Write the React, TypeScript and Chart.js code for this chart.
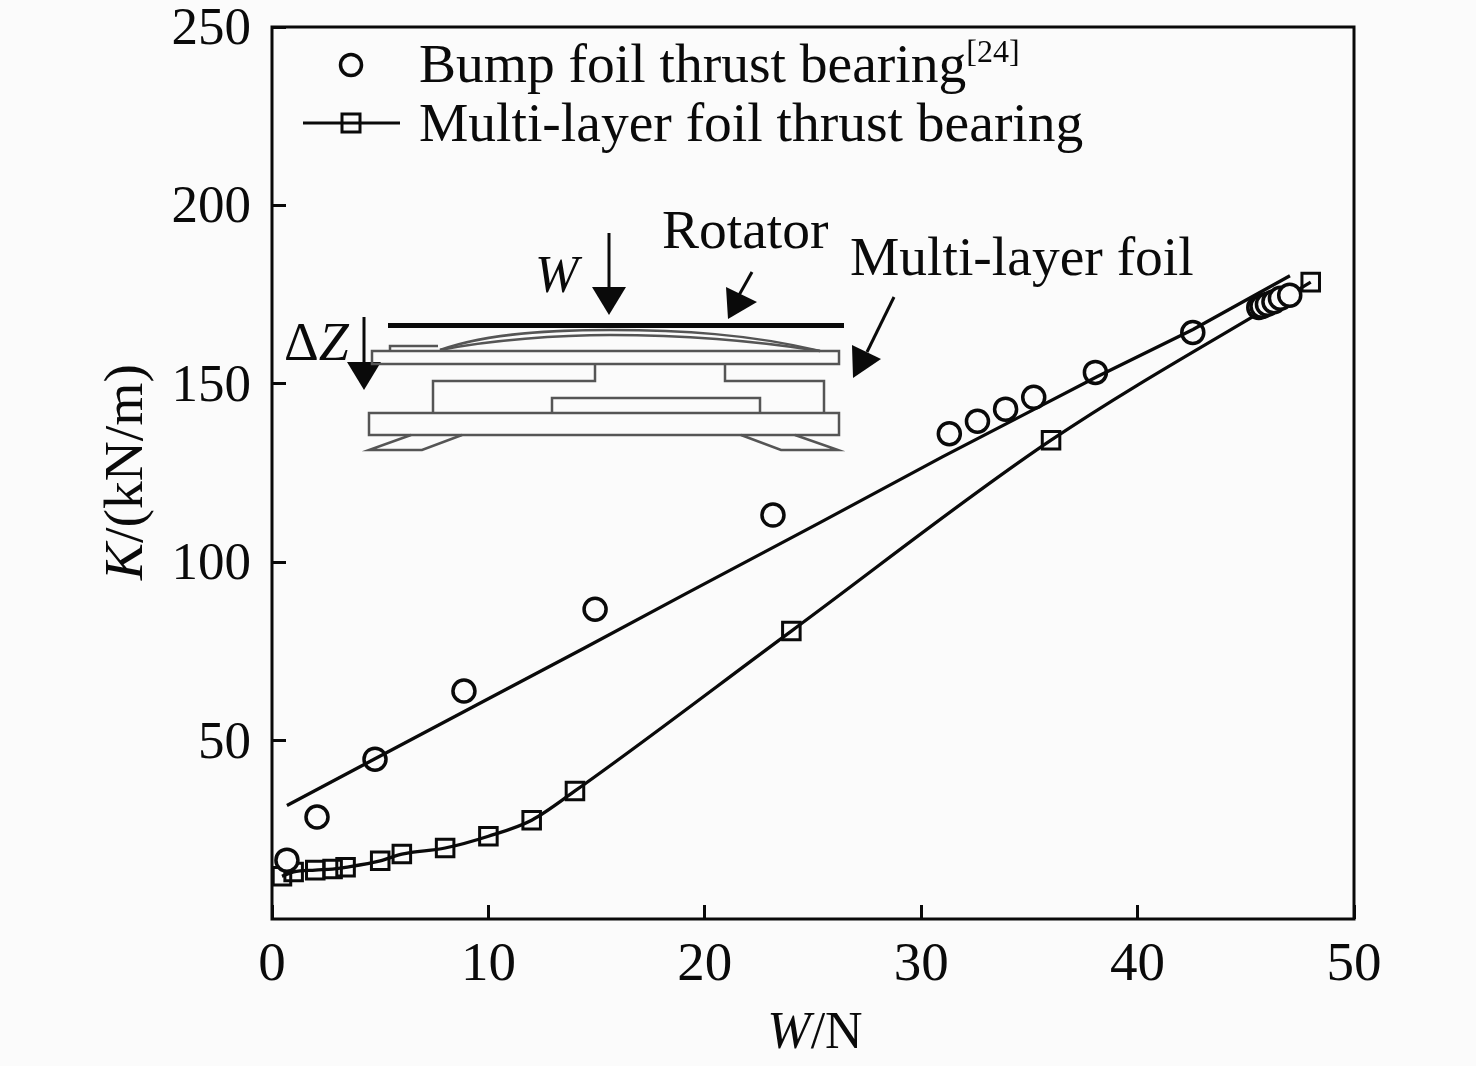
import React, { useEffect, useRef } from "react";
import { Chart, registerables } from "chart.js";

Chart.register(...registerables);

const bumpW = [0.69, 2.08, 4.76, 8.87, 14.93, 23.15, 31.3, 32.6, 33.9, 35.2, 38.05, 42.55, 45.6, 45.75, 46.0, 46.3, 46.6, 47.03];
const bumpK = [16.5, 28.6, 44.8, 63.9, 86.8, 113.2, 136, 139.5, 142.9, 146.2, 153.2, 164.4, 171.4, 171.7, 172.3, 173, 174, 174.8];
const fitW = [0.69, 4.76, 9.43, 14.46, 19.13, 25.32, 31.0, 35.17, 38.12, 42.56, 47.04];
const fitK = [31.8, 44.9, 59.9, 76, 91.2, 111.1, 129.6, 142.7, 152, 165.2, 180.3];
const multiW = [0.46, 1, 2, 2.8, 3.4, 5, 6, 8, 10, 12, 14, 24, 36, 48];
const multiK = [12, 13.2, 13.7, 14, 14.5, 16.3, 18.2, 19.9, 23.2, 27.7, 35.9, 80.7, 134.2, 178.5];
const xTicks = [0, 10, 20, 30, 40, 50];
const yTicks = [50, 100, 150, 200, 250];
const legendLabels = ["Bump foil thrust bearing", "Multi-layer foil thrust bearing"];

const SERIF = '"Liberation Serif"';
const INK = "#0a0a0a";
const PAPER = "#fbfbfb";
const FONT_SIZE = 55.5;

type Run = { t: string; italic?: boolean; size?: number; dy?: number };

function runs(ctx: CanvasRenderingContext2D, items: Run[], x: number, y: number, align: "left" | "center" = "left") {
  const fontOf = (r: Run) => `${r.italic ? "italic " : ""}${r.size ?? FONT_SIZE}px ${SERIF}`;
  let total = 0;
  for (const r of items) {
    ctx.font = fontOf(r);
    total += ctx.measureText(r.t).width;
  }
  let cx = align === "center" ? x - total / 2 : x;
  ctx.textAlign = "left";
  ctx.textBaseline = "alphabetic";
  ctx.fillStyle = INK;
  for (const r of items) {
    ctx.font = fontOf(r);
    ctx.fillText(r.t, cx, y + (r.dy ?? 0));
    cx += ctx.measureText(r.t).width;
  }
}

function path(ctx: CanvasRenderingContext2D, pts: number[][], close = false) {
  ctx.beginPath();
  pts.forEach(([a, b], i) => (i ? ctx.lineTo(a, b) : ctx.moveTo(a, b)));
  if (close) ctx.closePath();
}

function arrow(ctx: CanvasRenderingContext2D, line: number[][], head: number[][]) {
  ctx.strokeStyle = INK;
  ctx.fillStyle = INK;
  ctx.lineWidth = 3;
  path(ctx, line);
  ctx.stroke();
  path(ctx, head, true);
  ctx.fill();
}

const decor = {
  id: "decor",
  beforeDraw(chart: any) {
    const { ctx, width, height } = chart;
    ctx.save();
    ctx.fillStyle = PAPER;
    ctx.fillRect(0, 0, width, height);
    ctx.restore();
    const yScale = chart.scales.y;
    yScale._labelItems = null;
    yScale.getLabelItems(chart.chartArea).forEach((it: any) => {
      it.options.translation = [it.options.translation[0], it.options.translation[1] + 3];
    });
  },
  afterDatasetsDraw(chart: any) {
    const { ctx, chartArea: a } = chart;
    ctx.save();
    // frame
    ctx.strokeStyle = INK;
    ctx.lineWidth = 3;
    ctx.strokeRect(a.left, a.top, a.right - a.left, a.bottom - a.top);

    // axis titles
    runs(ctx, [{ t: "W", italic: true, size: 52 }, { t: "/N", size: 52 }], 815, 1048, "center");
    ctx.save();
    ctx.translate(142, 472);
    ctx.rotate(-Math.PI / 2);
    runs(ctx, [{ t: "K", italic: true }, { t: "/(kN/m)" }], 0, 0, "center");
    ctx.restore();

    // legend
    ctx.strokeStyle = INK;
    ctx.lineWidth = 3.5;
    ctx.beginPath();
    ctx.arc(351, 65, 10.5, 0, Math.PI * 2);
    ctx.stroke();
    ctx.lineWidth = 3;
    path(ctx, [[303, 123], [400, 123]]);
    ctx.stroke();
    ctx.strokeRect(342, 114, 18, 18);
    runs(ctx, [{ t: legendLabels[0] }, { t: "[24]", size: 32, dy: -20 }], 419, 82);
    runs(ctx, [{ t: legendLabels[1] }], 419, 141);

    // inset labels
    runs(ctx, [{ t: "Rotator" }], 662, 248);
    runs(ctx, [{ t: "Multi-layer foil" }], 850, 275);
    runs(ctx, [{ t: "W", italic: true, size: 52 }], 535, 292);
    runs(ctx, [{ t: "\u0394", size: 54 }, { t: "Z", italic: true, size: 54 }], 284, 360);

    // inset arrows
    arrow(ctx, [[609, 233], [609, 290]], [[592, 287], [626, 287], [609, 315]]);
    arrow(ctx, [[752, 272], [738, 297]], [[726, 287], [757, 302], [728, 319]]);
    arrow(ctx, [[364, 317], [364, 365]], [[347, 362], [381, 362], [364, 390]]);
    arrow(ctx, [[894, 297], [867, 352]], [[852, 345], [881, 359], [853, 378]]);

    // rotator
    ctx.fillStyle = INK;
    ctx.fillRect(388, 323, 456, 5);

    // foil schematic
    ctx.strokeStyle = "#555555";
    ctx.lineWidth = 2.5;
    ctx.strokeRect(372, 351, 467, 13);
    ctx.strokeRect(369, 413, 470, 22);
    const lines = [
      [[390, 351], [390, 346], [438, 346]],
      [[595, 364], [595, 381], [433, 381], [433, 413]],
      [[725, 364], [725, 381], [824, 381], [824, 413]],
      [[552, 413], [552, 398], [760, 398], [760, 413]],
      [[411, 435], [369, 450], [422, 450], [462, 435]],
      [[741, 435], [781, 450], [838, 450], [795, 435]],
    ];
    for (const l of lines) {
      path(ctx, l);
      ctx.stroke();
    }
    ctx.beginPath();
    ctx.moveTo(440, 350);
    ctx.bezierCurveTo(490, 332, 560, 330, 610, 330);
    ctx.bezierCurveTo(680, 330, 750, 334, 820, 351);
    ctx.stroke();
    ctx.beginPath();
    ctx.moveTo(440, 350);
    ctx.bezierCurveTo(490, 340, 560, 335, 610, 335);
    ctx.bezierCurveTo(680, 335, 750, 340, 820, 351);
    ctx.stroke();
    ctx.restore();
  },
};

export default function App() {
  const ref = useRef<HTMLCanvasElement>(null);
  useEffect(() => {
    document.body.style.margin = "0";
    document.body.style.background = PAPER;
    const chart = new Chart(ref.current!, {
      type: "scatter",
      data: {
        datasets: [
          {
            label: "Fit",
            data: fitW.map((x, i) => ({ x, y: fitK[i] })),
            showLine: true,
            borderColor: INK,
            borderWidth: 3.3,
            pointRadius: 0,
            tension: 0,
            order: 1,
          },
          {
            label: legendLabels[1],
            data: multiW.map((x, i) => ({ x, y: multiK[i] })),
            showLine: true,
            borderColor: INK,
            borderWidth: 3.3,
            pointStyle: "rect",
            pointRadius: 12.4,
            pointBorderWidth: 3,
            pointBorderColor: INK,
            pointBackgroundColor: "transparent",
            cubicInterpolationMode: "monotone",
            clip: false,
            order: 3,
          },
          {
            label: legendLabels[0],
            data: bumpW.map((x, i) => ({ x, y: bumpK[i] })),
            showLine: false,
            pointStyle: "circle",
            pointRadius: 11,
            pointBorderWidth: 3.5,
            pointBorderColor: INK,
            pointBackgroundColor: PAPER,
            clip: false,
            order: 2,
          },
        ] as any,
      },
      options: {
        animation: false,
        responsive: false,
        devicePixelRatio: 1,
        layout: { padding: { top: 27, right: 122, left: 0, bottom: 0 } },
        plugins: { legend: { display: false }, tooltip: { enabled: false } },
        scales: {
          x: {
            type: "linear",
            min: xTicks[0],
            max: xTicks[xTicks.length - 1],
            afterFit: (s: any) => { s.height = 147; s.paddingLeft = 0; s.paddingRight = 0; },
            afterBuildTicks: (s: any) => { s.ticks = xTicks.map((value) => ({ value })); },
            border: { display: false },
            grid: { drawOnChartArea: false, tickLength: -14, tickWidth: 3, tickColor: INK },
            ticks: { font: { family: SERIF, size: 55 }, color: INK, padding: 28, maxRotation: 0, autoSkip: false },
          },
          y: {
            type: "linear",
            min: 0,
            max: yTicks[yTicks.length - 1],
            afterFit: (s: any) => { s.width = 272; s.paddingTop = 0; s.paddingBottom = 0; },
            afterBuildTicks: (s: any) => { s.ticks = yTicks.map((value) => ({ value })); },
            border: { display: false },
            grid: { drawOnChartArea: false, tickLength: -14, tickWidth: 3, tickColor: INK },
            ticks: { font: { family: SERIF, size: 53 }, color: INK, padding: 35, autoSkip: false },
          },
        },
      } as any,
      plugins: [decor],
    });
    return () => chart.destroy();
  }, []);
  return <canvas ref={ref} width={1476} height={1066} style={{ display: "block", position: "absolute", left: 0, top: 0 }} />;
}
